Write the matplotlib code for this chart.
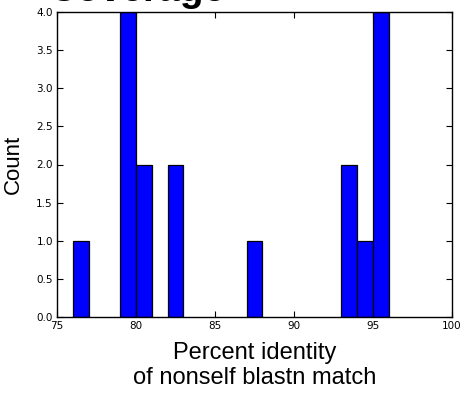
import matplotlib
matplotlib.use("Agg")
import matplotlib.pyplot as plt

# Data: histogram bins (left edge, width 1) and counts
bin_starts = [76, 79, 80, 82, 87, 93, 94, 95]
counts = [1, 4, 2, 2, 1, 2, 1, 4]
x_ticks = [75, 80, 85, 90, 95, 100]
y_ticks = [0.0, 0.5, 1.0, 1.5, 2.0, 2.5, 3.0, 3.5, 4.0]

fig = plt.figure(figsize=(4.63, 3.93), dpi=100)
ax = fig.add_axes([57/463, 1-317/393, (452-57)/463, (317-12)/393])

ax.bar(bin_starts, counts, width=1, align='edge', color='#0000ff',
       edgecolor='black', linewidth=0.9)

ax.set_xlim(75, 100)
ax.set_ylim(0, 4.0)
ax.set_xticks(x_ticks)
ax.set_xticklabels([str(t) for t in x_ticks])
ax.set_yticks(y_ticks)
ax.set_yticklabels([f"{t:.1f}" for t in y_ticks])
ax.tick_params(direction='in', length=4, width=0.8, top=True, right=True,
               labelsize=7.5, pad=3, colors='black')
for s in ax.spines.values():
    s.set_linewidth(1.0)

lab_font = dict(family=['Liberation Sans', 'DejaVu Sans'])
ax.set_xlabel("Percent identity\nof nonself blastn match", labelpad=8,
              linespacing=1.15, size=17, **lab_font)
ax.set_ylabel("Count", labelpad=9, size=16, **lab_font)

# Title, mostly cut off at the top of the figure
fig.text(226/463, 1-1/393, "Coverage", ha='right', va='baseline',
         fontsize=28, fontweight='bold',
         family=['Liberation Sans', 'DejaVu Sans'])

fig.savefig("out.png", dpi=100)
